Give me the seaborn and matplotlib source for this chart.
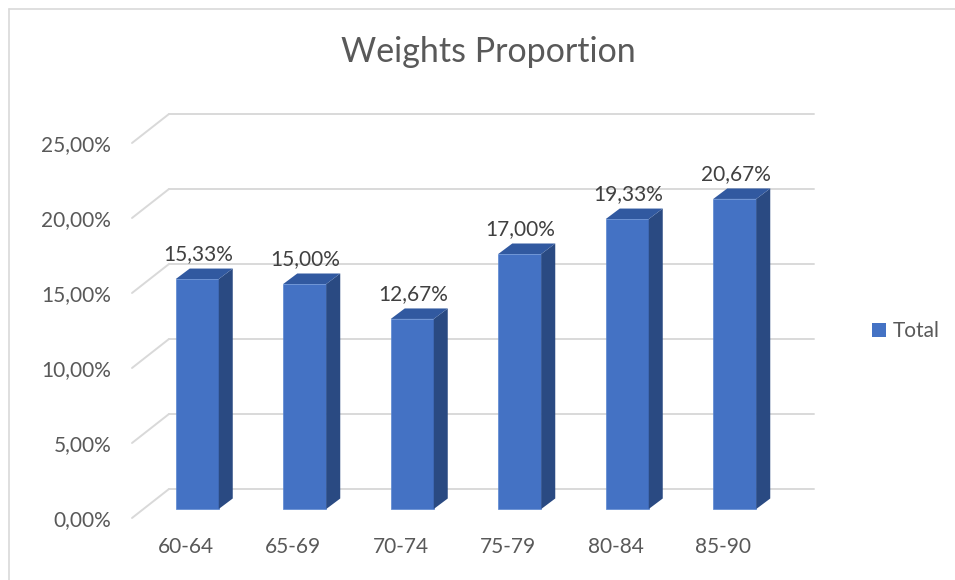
import matplotlib
matplotlib.use("Agg")
import matplotlib.pyplot as plt
import matplotlib.transforms as mtransforms
from matplotlib.patches import Patch
from matplotlib.lines import Line2D
import seaborn as sns
import pandas as pd

# ---- data ----
categories = ["60-64", "65-69", "70-74", "75-79", "80-84", "85-90"]
values = [15.33, 15.00, 12.67, 17.00, 19.33, 20.67]
y_ticks = [0, 5, 10, 15, 20, 25]
title = "Weights Proportion"
series_name = "Total"

df = pd.DataFrame({"cat": categories, "val": values})

sns.set_theme(style="white")
plt.rcParams["font.family"] = ["Lato", "DejaVu Sans"]

W, H, DPI = 955, 580, 100
fig = plt.figure(figsize=(W / DPI, H / DPI), dpi=DPI)
fig.patch.set_facecolor("white")

# front plane of the 3D box (pixels from top-left)
fx0, fx1 = 132, 777
fy0, fy25 = 518, 143
ax = fig.add_axes([fx0 / W, 1 - fy0 / H, (fx1 - fx0) / W, (fy0 - fy25) / H])
ax.set_xlim(-0.5, len(categories) - 0.5)
ax.set_ylim(0, 25)
ax.patch.set_alpha(0)
for s in ax.spines.values():
    s.set_visible(False)

def off(dx, dy):
    return ax.transData + mtransforms.ScaledTranslation(dx / DPI, dy / DPI, fig.dpi_scale_trans)

back_dx, back_dy = 37, 29
bar_dx, bar_dy = 11.5, 9
dep_dx, dep_dy = 14, 10.5

grid_c = "#D9D9D9"
t_back = off(back_dx, back_dy)
px_x = ax.transData.transform((1, 0))[0] - ax.transData.transform((0, 0))[0]
px_y = ax.transData.transform((0, 1))[1] - ax.transData.transform((0, 0))[1]
xmin, xmax = ax.get_xlim()
for t in y_ticks:
    # back wall line
    ax.plot([xmin, xmax], [t, t], color=grid_c, lw=1.4, transform=t_back, clip_on=False, zorder=1)
    # side wall diagonal
    ax.plot([xmin, xmin + back_dx / px_x], [t, t + back_dy / px_y], color=grid_c, lw=1.4,
            clip_on=False, zorder=1)

# bars (front faces)
sns.barplot(data=df, x="cat", y="val", color="#4472C4", saturation=1, width=0.4, ax=ax, zorder=3)
t_bar = off(bar_dx, bar_dy)
ddx, ddy = dep_dx / px_x, dep_dy / px_y
for p in ax.patches:
    p.set_transform(t_bar)
    p.set_clip_on(False)
    p.set_edgecolor("#5A86D0")
    p.set_linewidth(0.5)
    x0 = p.get_x(); w = p.get_width(); h = p.get_height()
    x1 = x0 + w
    # side face
    ax.fill([x1, x1 + ddx, x1 + ddx, x1], [0, ddy, h + ddy, h], color="#2A4A82",
            transform=t_bar, clip_on=False, zorder=3, lw=0)
    # top face
    ax.fill([x0, x1, x1 + ddx, x0 + ddx], [h, h, h + ddy, h + ddy], color="#3159A0",
            transform=t_bar, clip_on=False, zorder=3, lw=0)

# data labels
for i, v in enumerate(values):
    ax.annotate(f"{v:.2f}%".replace(".", ","), xy=(i, v), xycoords=t_bar,
                xytext=(0.5, 25 * 72 / DPI), textcoords="offset points",
                ha="center", va="center", fontsize=15, color="#404040", zorder=5)

# axes ticks
ax.set_yticks(y_ticks)
ax.set_yticklabels([f"{t:.2f}%".replace(".", ",") for t in y_ticks])
ax.tick_params(axis="y", length=0, pad=15, labelsize=15, labelcolor="#595959")
ax.tick_params(axis="x", length=0, pad=13.5, labelsize=15, labelcolor="#595959")
ax.set_xlabel("")
ax.set_ylabel("")

# title
fig.text(488 / W, 1 - 52 / H, title, ha="center", va="center", fontsize=24.5, color="#595959")

# legend
fig.legend(handles=[Patch(facecolor="#4472C4", edgecolor="none", label=series_name)],
           loc="center left", bbox_to_anchor=(872 / W, 1 - 331 / H), frameon=False,
           fontsize=15, handlelength=0.68, handleheight=0.68, handletextpad=0.3,
           borderpad=0, borderaxespad=0, labelcolor="#595959")

# chart frame (left and top edges)
fig.add_artist(Line2D([8.5 / W, 8.5 / W], [0, 1 - 8.5 / H], color="#D9D9D9", lw=1.2,
                      transform=fig.transFigure))
fig.add_artist(Line2D([8.5 / W, 1], [1 - 8.5 / H, 1 - 8.5 / H], color="#D9D9D9", lw=1.2,
                      transform=fig.transFigure))

fig.savefig("out.png", dpi=DPI, facecolor="white")
